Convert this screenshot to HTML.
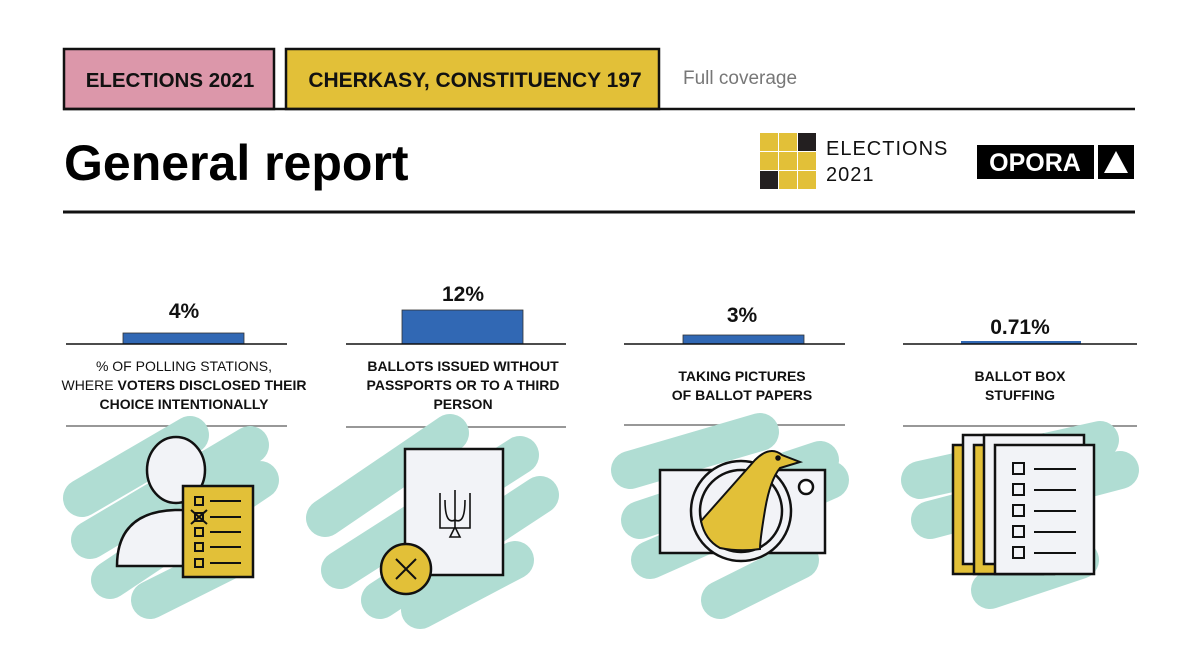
<!DOCTYPE html>
<html><head><meta charset="utf-8"><style>
body{margin:0;width:1200px;height:650px;background:#fff;overflow:hidden;font-family:"Liberation Sans",sans-serif;}
</style></head><body>
<svg width="1200" height="650" viewBox="0 0 1200 650" xmlns="http://www.w3.org/2000/svg" font-family="Liberation Sans, sans-serif">
<!-- header -->
<rect x="64" y="49" width="210" height="60" fill="#dc97aa" stroke="#111" stroke-width="2.5"/>
<rect x="286" y="49" width="373" height="60" fill="#e2c038" stroke="#111" stroke-width="2.5"/>
<text x="170" y="87" text-anchor="middle" font-size="20.5" font-weight="bold" fill="#111">ELECTIONS 2021</text>
<text x="475" y="87" text-anchor="middle" font-size="21" font-weight="bold" fill="#111">CHERKASY, CONSTITUENCY 197</text>
<text x="683" y="84" font-size="19" fill="#777">Full coverage</text>
<line x1="63" y1="109" x2="1135" y2="109" stroke="#111" stroke-width="2.5"/>
<text x="64" y="180" font-size="50" font-weight="bold" fill="#000">General report</text>
<line x1="63" y1="212" x2="1135" y2="212" stroke="#111" stroke-width="3"/>
<!-- logo -->
<g>
<rect x="760" y="133" width="18" height="18" fill="#e2c038"/><rect x="779" y="133" width="18" height="18" fill="#e2c038"/><rect x="798" y="133" width="18" height="18" fill="#231f20"/>
<rect x="760" y="152" width="18" height="18" fill="#e2c038"/><rect x="779" y="152" width="18" height="18" fill="#e2c038"/><rect x="798" y="152" width="18" height="18" fill="#e2c038"/>
<rect x="760" y="171" width="18" height="18" fill="#231f20"/><rect x="779" y="171" width="18" height="18" fill="#e2c038"/><rect x="798" y="171" width="18" height="18" fill="#e2c038"/>
</g>
<text x="826" y="155" font-size="20" fill="#111" letter-spacing="1">ELECTIONS</text>
<text x="826" y="181" font-size="20" fill="#111" letter-spacing="1">2021</text>
<rect x="977" y="145" width="117" height="34" fill="#000"/>
<text x="1035" y="171" text-anchor="middle" font-size="25" font-weight="bold" fill="#fff">OPORA</text>
<rect x="1098" y="145" width="36" height="34" fill="#000"/>
<polygon points="1116,151 1128,173 1104,173" fill="#fff"/>

<!-- bars -->
<g font-weight="bold" fill="#111" text-anchor="middle">
<text x="184" y="318" font-size="21">4%</text>
<rect x="123" y="333" width="121" height="11" fill="#3168b4" stroke="#333" stroke-width="0.8"/>
<line x1="66" y1="344" x2="287" y2="344" stroke="#111" stroke-width="1.5"/>
<text x="463" y="301" font-size="21">12%</text>
<rect x="402" y="310" width="121" height="34" fill="#3168b4" stroke="#333" stroke-width="0.8"/>
<line x1="346" y1="344" x2="566" y2="344" stroke="#111" stroke-width="1.5"/>
<text x="742" y="322" font-size="21">3%</text>
<rect x="683" y="335" width="121" height="9" fill="#3168b4" stroke="#333" stroke-width="0.8"/>
<line x1="624" y1="344" x2="845" y2="344" stroke="#111" stroke-width="1.5"/>
<text x="1020" y="334" font-size="21">0.71%</text>
<rect x="961" y="341" width="120" height="3" fill="#3168b4"/>
<line x1="903" y1="344" x2="1137" y2="344" stroke="#111" stroke-width="1.5"/>
</g>
<!-- labels -->
<g font-size="14" fill="#111" text-anchor="middle">
<text x="184" y="371">% OF POLLING STATIONS,</text>
<text x="184" y="390">WHERE <tspan font-weight="bold">VOTERS DISCLOSED THEIR</tspan></text>
<text x="184" y="409" font-weight="bold">CHOICE INTENTIONALLY</text>
<text x="463" y="371" font-weight="bold">BALLOTS ISSUED WITHOUT</text>
<text x="463" y="390" font-weight="bold">PASSPORTS OR TO A THIRD</text>
<text x="463" y="409" font-weight="bold">PERSON</text>
<text x="742" y="381" font-weight="bold">TAKING PICTURES</text>
<text x="742" y="400" font-weight="bold">OF BALLOT PAPERS</text>
<text x="1020" y="381" font-weight="bold">BALLOT BOX</text>
<text x="1020" y="400" font-weight="bold">STUFFING</text>
</g>
<g stroke="#777" stroke-width="1.5">
<line x1="66" y1="426" x2="287" y2="426"/><line x1="346" y1="427" x2="566" y2="427"/>
<line x1="624" y1="425" x2="845" y2="425"/><line x1="903" y1="426" x2="1137" y2="426"/>
</g>
<!-- teal blobs -->
<g stroke="#b0ddd3" stroke-linecap="round" stroke-linejoin="round" fill="none" stroke-width="38">
<path d="M82 498 L190 435 M90 540 L250 445 M110 580 L260 480 M150 600 L230 560"/>
<path d="M325 518 L450 433 M340 570 L520 455 M380 600 L540 495 M420 610 L515 560"/>
<path d="M630 470 L760 432 M640 520 L820 460 M650 560 L830 480 M720 600 L800 560"/>
<path d="M920 480 L1100 440 M930 520 L1120 470 M990 590 L1080 560"/>
</g>
<!-- icon 1 -->
<g stroke="#111" stroke-width="2.5">
<ellipse cx="176" cy="470" rx="29" ry="33" fill="#f2f3f7"/>
<path d="M117 566 Q117 512 175 510 L185 510 L185 566 Z" fill="#f2f3f7"/>
<rect x="183" y="486" width="70" height="91" fill="#e2c038"/>
<g fill="none" stroke-width="2">
<rect x="195" y="497" width="8" height="8"/><rect x="195" y="513" width="8" height="8"/><rect x="195" y="528" width="8" height="8"/><rect x="195" y="543" width="8" height="8"/><rect x="195" y="559" width="8" height="8"/>
<path d="M191 510 L207 524 M207 510 L191 524"/>
<path d="M210 501 H241 M210 517 H241 M210 532 H241 M210 547 H241 M210 563 H241"/>
</g>
</g>
<!-- icon 2 -->
<g stroke="#111" stroke-width="2.5">
<rect x="405" y="449" width="98" height="126" fill="#f2f3f7"/>
<path d="M440 493 L440 528 L470 528 L470 493 M455 490 L455 527 M445 500 Q445 525 455 520 Q465 525 465 500 M455 527 L450 537 L460 537 Z" fill="none" stroke-width="1.6"/>
<circle cx="406" cy="569" r="25" fill="#e2c038"/>
<path d="M396 559 L416 579 M416 559 L396 579" stroke-width="2"/>
</g>
<!-- icon 3 -->
<g stroke="#111" stroke-width="2.5">
<rect x="660" y="470" width="165" height="83" fill="#f2f3f7"/>
<circle cx="741" cy="511" r="50" fill="#f2f3f7"/>
<circle cx="741" cy="511" r="41" fill="#f2f3f7"/>
<path d="M701 521 L755 460 Q770 445 782 455 L800 462 L780 468 Q770 480 765 510 Q760 540 760 549 Q740 552 720 548 Q705 540 701 521 Z" fill="#e2c038" stroke-width="2"/>
<circle cx="778" cy="458" r="1.5" fill="#111"/>
<circle cx="806" cy="487" r="7" fill="#fff"/>
</g>
<!-- icon 4 -->
<g stroke="#111" stroke-width="2.5">
<rect x="953" y="445" width="90" height="129" fill="#e2c038"/>
<rect x="963" y="435" width="80" height="129" fill="#f2f3f7"/>
<rect x="974" y="445" width="80" height="129" fill="#e2c038"/>
<rect x="984" y="435" width="100" height="129" fill="#f2f3f7"/>
<rect x="995" y="445" width="99" height="129" fill="#f2f3f7"/>
<g fill="none" stroke-width="2">
<rect x="1013" y="463" width="11" height="11"/><rect x="1013" y="484" width="11" height="11"/><rect x="1013" y="505" width="11" height="11"/><rect x="1013" y="526" width="11" height="11"/><rect x="1013" y="547" width="11" height="11"/>
<path d="M1034 469 H1076 M1034 490 H1076 M1034 511 H1076 M1034 532 H1076 M1034 553 H1076"/>
</g>
</g>
</svg>
</body></html>
